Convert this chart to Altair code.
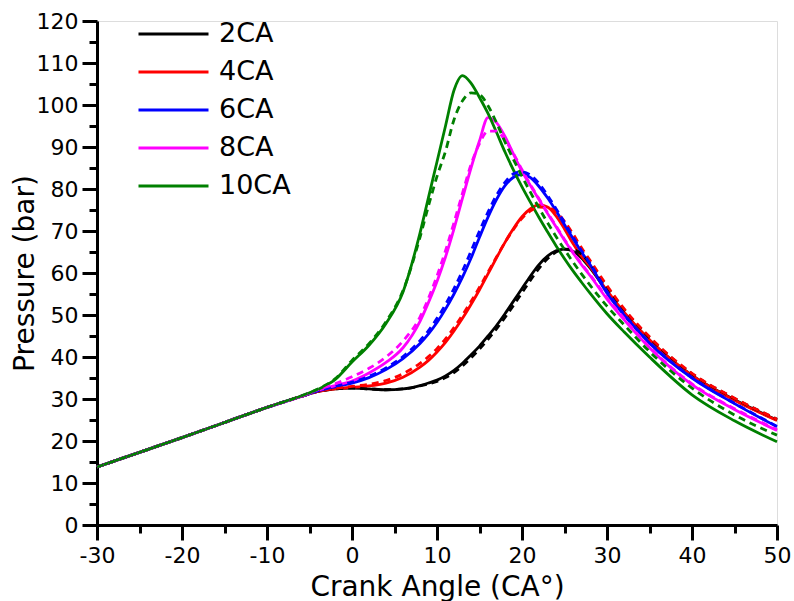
import altair as alt
import pandas as pd

ANGLE = [-30, -25, -20, -15, -10, -6, -4, -2, 0, 2, 4, 6, 8, 9, 10, 11, 12, 13, 14, 15,
         16, 17, 18, 19, 20, 21, 22, 23, 24, 25, 26, 27, 28, 30, 32, 35, 40, 45, 50]

SERIES = ["2CA", "4CA", "6CA", "8CA", "10CA"]
COLORS = ["#000000", "#ff0000", "#0000ff", "#ff00ff", "#008000"]

CA2_SOLID = [13.8, 17.3, 20.8, 24.4, 28.0, 30.6, 31.8, 32.4, 32.6, 32.4, 32.2, 32.4, 33.2,
             33.8, 34.5, 35.5, 36.8, 38.5, 40.5, 42.6, 45.0, 47.5, 50.3, 53.3, 56.3, 59.3,
             62.0, 64.0, 65.3, 65.7, 65.2, 63.6, 61.2, 55.6, 50.5, 44.0, 35.6, 29.8, 25.0]
CA2_DASHED = [13.8, 17.3, 20.8, 24.4, 28.0, 30.6, 31.8, 32.4, 32.6, 32.4, 32.2, 32.4, 33.1,
              33.6, 34.2, 35.1, 36.3, 37.9, 39.8, 41.9, 44.2, 46.7, 49.4, 52.3, 55.3, 58.3,
              61.1, 63.4, 65.0, 65.7, 65.6, 64.5, 62.3, 56.6, 51.3, 44.6, 36.0, 30.1, 25.2]
CA4_SOLID = [13.8, 17.3, 20.8, 24.4, 28.0, 30.6, 31.8, 32.4, 32.8, 33.1, 33.8, 35.2, 37.6,
             39.2, 41.2, 43.5, 46.2, 49.2, 52.5, 56.0, 59.8, 63.6, 67.3, 70.6, 73.4, 75.3,
             76.2, 75.7, 73.6, 70.5, 67.0, 64.0, 61.5, 55.8, 50.7, 44.1, 35.6, 29.7, 24.9]
CA4_DASHED = [13.8, 17.3, 20.8, 24.4, 28.0, 30.6, 31.8, 32.5, 33.0, 33.5, 34.4, 36.0, 38.5,
              40.1, 42.0, 44.3, 47.0, 50.0, 53.2, 56.6, 60.2, 63.8, 67.3, 70.4, 73.0, 74.8,
              75.7, 75.6, 74.5, 72.3, 69.3, 66.0, 63.0, 57.0, 51.5, 44.8, 36.1, 30.2, 25.2]
CA6_SOLID = [13.8, 17.3, 20.8, 24.4, 28.0, 30.6, 31.9, 32.9, 33.8, 35.1, 37.0, 39.6, 43.2,
             45.5, 48.2, 51.4, 55.0, 59.0, 63.5, 68.5, 73.3, 77.5, 80.8, 82.8, 83.5, 82.7,
             80.6, 77.9, 74.8, 71.5, 68.2, 65.0, 62.0, 55.2, 50.0, 43.3, 35.0, 28.9, 23.4]
CA6_DASHED = [13.8, 17.3, 20.8, 24.4, 28.0, 30.6, 31.9, 33.0, 34.0, 35.4, 37.4, 40.1, 43.9,
              46.3, 49.2, 52.5, 56.3, 60.5, 65.2, 70.0, 74.5, 78.5, 81.6, 83.6, 84.1, 83.3,
              81.3, 78.5, 75.3, 72.0, 68.6, 65.3, 62.3, 55.6, 50.2, 43.5, 35.1, 29.0, 23.5]
CA8_SOLID = [13.8, 17.3, 20.8, 24.4, 28.0, 30.6, 32.1, 33.2, 34.3, 36.2, 38.7, 42.2, 48.5,
             53.0, 58.0, 63.8, 70.5, 77.8, 85.0, 91.5, 97.0, 95.8, 92.5, 88.3, 84.2, 80.8,
             77.5, 74.2, 71.0, 67.8, 64.8, 62.0, 59.4, 53.8, 48.9, 42.2, 33.4, 27.5, 22.5]
CA8_DASHED = [13.8, 17.3, 20.8, 24.4, 28.0, 30.6, 32.2, 33.6, 35.3, 37.3, 40.0, 43.8, 49.5,
              54.0, 59.3, 65.3, 72.0, 79.0, 85.8, 90.8, 93.8, 93.8, 91.6, 88.4, 84.6, 81.0,
              77.7, 74.4, 71.2, 68.0, 65.0, 62.2, 59.6, 54.1, 49.2, 42.4, 33.6, 27.7, 22.7]
CA10_SOLID = [13.8, 17.3, 20.8, 24.4, 28.0, 30.7, 32.3, 34.6, 38.8, 42.8, 48.0, 55.5, 69.5,
              78.0, 86.5, 95.0, 103.5, 107.0, 105.2, 101.8, 98.0, 93.5, 88.8, 84.5, 80.5, 76.8,
              73.2, 69.8, 66.5, 63.4, 60.5, 57.8, 55.2, 50.3, 46.0, 40.0, 31.0, 24.8, 19.8]
CA10_DASHED = [13.8, 17.3, 20.8, 24.4, 28.0, 30.7, 32.4, 34.8, 39.2, 43.2, 48.4, 55.8, 68.5,
               76.0, 83.0, 89.0, 96.5, 101.0, 102.9, 102.5, 99.8, 95.8, 91.2, 87.0, 83.0, 79.2,
               75.5, 72.0, 68.7, 65.6, 62.6, 59.8, 57.1, 52.1, 47.7, 41.3, 32.6, 26.2, 21.4]

X_MAJOR = [-30, -20, -10, 0, 10, 20, 30, 40, 50]
X_MINOR = [-25, -15, -5, 5, 15, 25, 35, 45]
Y_MAJOR = [0, 10, 20, 30, 40, 50, 60, 70, 80, 90, 100, 110, 120]
Y_MINOR = [5, 15, 25, 35, 45, 55, 65, 75, 85, 95, 105, 115]

solids = [CA2_SOLID, CA4_SOLID, CA6_SOLID, CA8_SOLID, CA10_SOLID]
dasheds = [CA2_DASHED, CA4_DASHED, CA6_DASHED, CA8_DASHED, CA10_DASHED]

rows = []
for i, (name, s_vals, d_vals) in enumerate(zip(SERIES, solids, dasheds)):
    for a, s, d in zip(ANGLE, s_vals, d_vals):
        rows.append({"angle": a, "p": s, "series": name, "kind": "solid", "order": i})
        rows.append({"angle": a, "p": d, "series": name, "kind": "dashed", "order": i})
df = pd.DataFrame(rows)

FONT = "DejaVu Sans"
x_scale = alt.Scale(domain=[-30, 50], nice=False, zero=False)
y_scale = alt.Scale(domain=[0, 120], nice=False)
color_scale = alt.Scale(domain=SERIES, range=COLORS)

axis_common = dict(grid=False, domainColor="black", tickColor="black", domainWidth=3,
                   tickWidth=3, labelColor="black", labelFont=FONT, labelFontSize=22,
                   titleFont=FONT, titleFontSize=28, titleFontWeight="normal",
                   titleColor="black", labelFlush=False, labelOverlap=False,
                   labelExpr="'' + datum.value")

solid = alt.Chart(df).transform_filter(alt.datum.kind == "solid").mark_line(
    strokeWidth=2.8, interpolate="monotone"
).encode(
    x=alt.X("angle:Q", scale=x_scale,
            axis=alt.Axis(orient="bottom", values=X_MAJOR, tickSize=15, labelPadding=5,
                          title="Crank Angle (CA°)", titleX=340, titleY=70,
                          titleBaseline="alphabetic", titleAlign="center", **axis_common)),
    y=alt.Y("p:Q", scale=y_scale,
            axis=alt.Axis(orient="left", values=Y_MAJOR, tickSize=15, labelPadding=4,
                          title="Pressure (bar)", titleX=-72, titleY=252, titleAngle=-90,
                          titleAlign="center", titleBaseline="middle", **axis_common)),
    color=alt.Color("series:N", scale=color_scale,
                    legend=alt.Legend(orient="none", legendX=40, legendY=-6, title=None,
                                      symbolType="stroke", symbolSize=4900,
                                      symbolStrokeWidth=3, labelFont=FONT, labelFontSize=27,
                                      labelColor="black", labelOffset=9, clipHeight=38,
                                      rowPadding=0, padding=0)),
    detail="series:N",
    order="order:Q",
)

dashed = alt.Chart(df).transform_filter(alt.datum.kind == "dashed").mark_line(
    strokeWidth=2.8, interpolate="monotone", strokeDash=[7, 5]
).encode(
    x=alt.X("angle:Q", scale=x_scale,
            axis=alt.Axis(orient="bottom", values=X_MINOR, tickSize=8, labels=False,
                          domain=False, title="", **axis_common)),
    y=alt.Y("p:Q", scale=y_scale,
            axis=alt.Axis(orient="left", values=Y_MINOR, tickSize=8, labels=False,
                          domain=False, title="", **axis_common)),
    color=alt.Color("series:N", scale=color_scale, legend=None),
    detail="series:N",
)

chart = alt.layer(solid, dashed).resolve_axis(
    x="independent", y="independent"
).resolve_legend(color="independent").properties(
    width=680, height=504,
    padding={"left": 97, "top": 21, "right": 17, "bottom": 76},
    autosize=alt.AutoSizeParams(type="none"),
    background="white",
).configure_view(stroke=None).configure(font=FONT)

chart.save("out.html", embed_options={"renderer": "svg", "actions": False})
